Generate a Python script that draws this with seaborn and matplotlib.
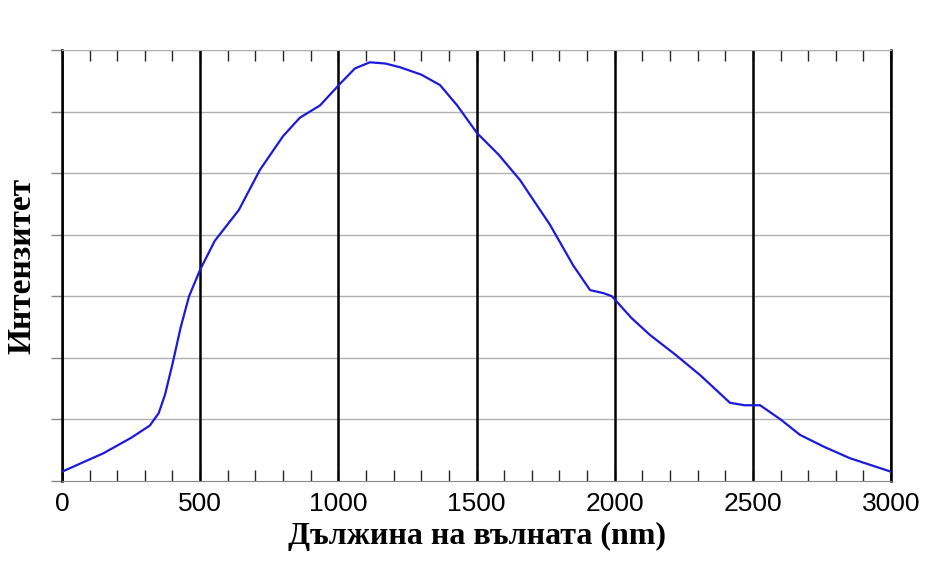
import matplotlib
matplotlib.use("Agg")
import matplotlib.pyplot as plt
import seaborn as sns
import numpy as np
import pandas as pd
from matplotlib.ticker import MultipleLocator

wavelength = [0, 150, 250, 318, 350, 373, 400, 430, 460, 500, 553, 640, 716, 800, 861, 934, 1006, 1060, 1114, 1170, 1223, 1300, 1368, 1430, 1502, 1580, 1657, 1766, 1850, 1911, 1960, 1990, 2060, 2128, 2220, 2309, 2417, 2470, 2526, 2600, 2670, 2760, 2851, 3000]
intensity = [0.15, 0.45, 0.7, 0.9, 1.1, 1.4, 1.9, 2.5, 3.0, 3.43, 3.9, 4.4, 5.05, 5.6, 5.9, 6.1, 6.45, 6.7, 6.8, 6.78, 6.72, 6.6, 6.43, 6.1, 5.65, 5.3, 4.89, 4.16, 3.5, 3.1, 3.05, 3.0, 2.65, 2.37, 2.05, 1.72, 1.27, 1.23, 1.23, 1.0, 0.75, 0.55, 0.37, 0.15]
xticks = [0, 500, 1000, 1500, 2000, 2500, 3000]

df = pd.DataFrame({"wl": wavelength, "I": intensity})
sns.set_style("white")
plt.rcParams['font.family'] = ['Liberation Sans', 'DejaVu Sans']

fig = plt.figure(figsize=(9.38, 5.88), dpi=100)
ax = fig.add_axes([0.066, 0.182, 0.884, 0.733])
ax.set_xlim(0, 3000)
ax.set_ylim(0, 7)
for y in range(1, 8):
    ax.axhline(y, color="#b0b0b0", lw=1, zorder=0)
for x in xticks:
    ax.axvline(x, color="black", lw=1.8, zorder=1)
sns.lineplot(data=df, x="wl", y="I", ax=ax, color="#1a1adc", lw=1.6, zorder=3)
ax.set_xticks(xticks)
ax.xaxis.set_minor_locator(MultipleLocator(100))
ax.set_yticks(range(0, 8))
ax.set_yticklabels([])
ax.tick_params(axis="x", which="both", direction="in", top=True, bottom=True, length=8, width=1, labelsize=19, pad=8, labelcolor="black")
ax.tick_params(axis="y", which="both", direction="out", left=True, length=8, width=1, color="#888888")
for s in ["left", "right"]:
    ax.spines[s].set_color("black"); ax.spines[s].set_linewidth(1.8)
ax.spines["top"].set_color("#b0b0b0")
ax.spines["bottom"].set_color("#888888")
ax.set_xlabel("Дължина на вълната (nm)", family=["Liberation Serif"], fontweight="bold", fontsize=23, labelpad=4, color="black")
ax.set_ylabel("Интензитет", family=["Liberation Serif"], fontweight="bold", fontsize=24, labelpad=6, color="black")
fig.savefig("out.png", dpi=100)
